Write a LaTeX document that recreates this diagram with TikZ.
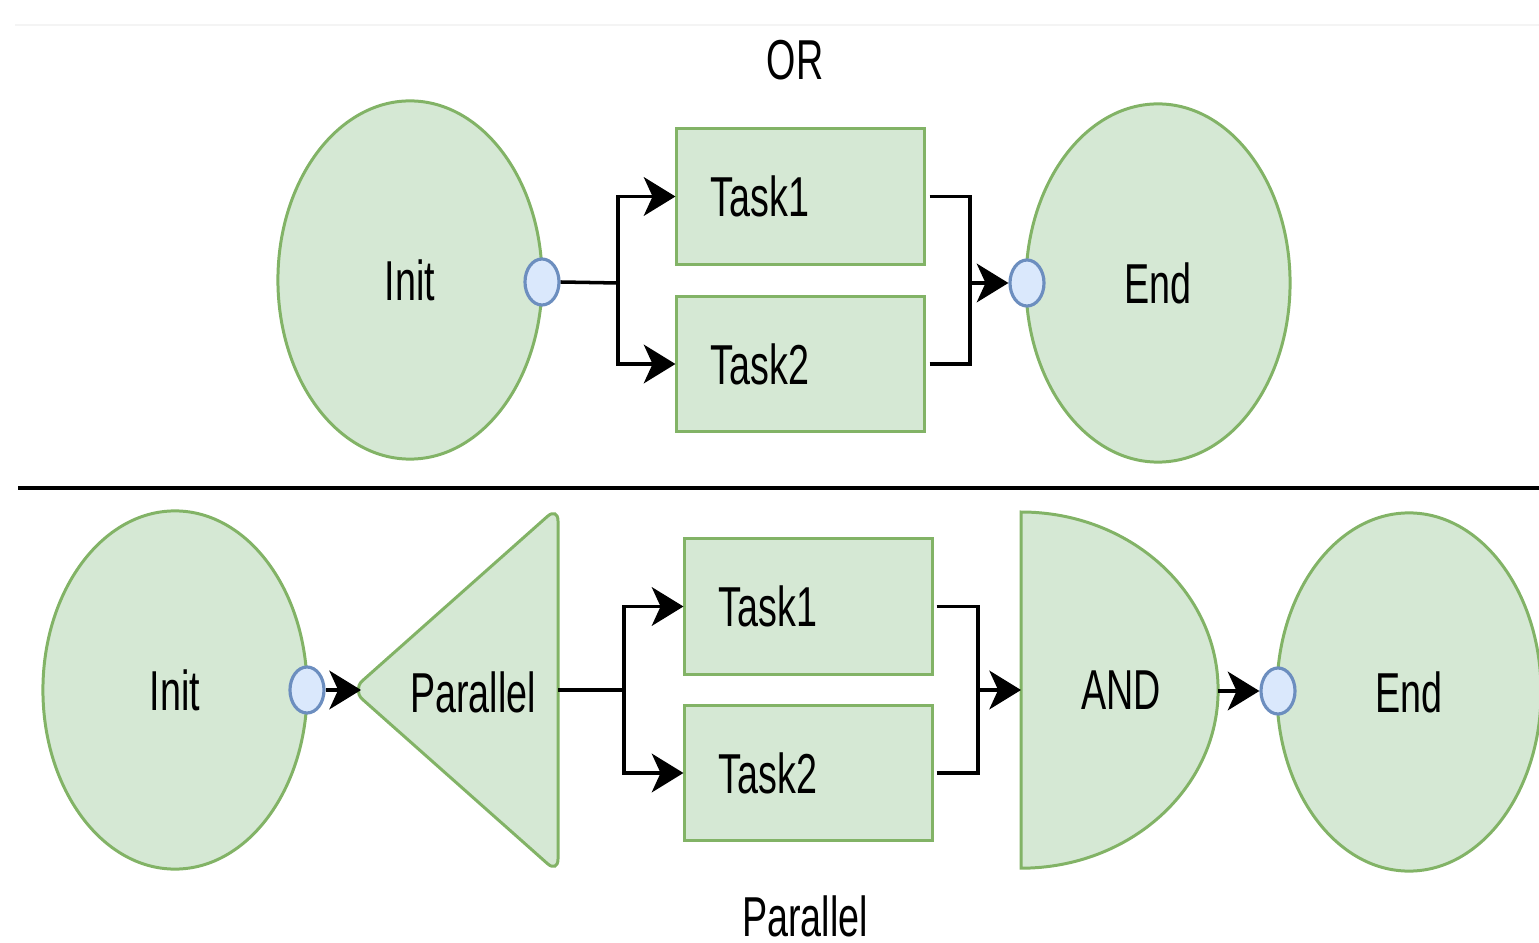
\documentclass[tikz,border=0pt]{standalone}
\usepackage{fontspec}
\setmainfont{Liberation Sans}[FakeStretch=0.67]
\usetikzlibrary{shapes.geometric,arrows.meta}
\definecolor{gfill}{HTML}{D5E8D4}
\definecolor{gline}{HTML}{82B366}
\definecolor{bfill}{HTML}{DAE8FC}
\definecolor{bline}{HTML}{6C8EBF}
\definecolor{faint}{HTML}{F4F4F4}
\begin{document}
\begin{tikzpicture}[x=0.01cm,y=-0.01cm,
  txt/.style={font=\fontsize{16}{19}\selectfont, inner sep=0},
  greenshape/.style={draw=gline, fill=gfill, line width=0.85pt},
  ell/.style={ellipse, greenshape, minimum width=2.64cm, minimum height=3.58cm, inner sep=0, txt},
  port/.style={ellipse, draw=bline, fill=bfill, line width=0.9pt, minimum width=0.34cm, minimum height=0.46cm, inner sep=0},
  task/.style={rectangle, greenshape, minimum width=2.47cm, minimum height=1.35cm, inner ysep=0, inner xsep=0.34cm, text width=1.79cm, align=left, txt},
  conn/.style={line width=1pt, black},
  arr/.style={conn, -{Stealth[length=9pt,width=11pt,inset=2.5pt]}}
]
\useasboundingbox (0,0) rectangle (1539,943);
% faint top rule
\coordinate (fl) at (15,25);
\coordinate (fr) at (1539,25);
\draw[faint, line width=0.6pt] (fl) -- (fr);

% ===== Top: OR =====
\node[txt] (orlbl) at (795,60) {OR};
\node[ell] (init1) at (410,280) {Init};
\node[ell] (end1) at (1158,283) {End};
\node[task] (t1) at (800.5,196.5) {Task1};
\node[task] (t2) at (800.5,364) {Task2};
\node[port] (p1) at (542,282) {};
\node[port] (p2) at (1027,283) {};
\coordinate (j1) at (618,283);
\coordinate (j2) at (970,283);
\draw[conn] (p1.east) -- (j1);
\draw[arr] (j1) |- (t1.west);
\draw[arr] (j1) |- (t2.west);
\draw[conn] ([xshift=0.04cm]t1.east) -| (j2);
\draw[conn] ([xshift=0.04cm]t2.east) -| (j2);
\draw[arr] (j2) -- (p2.west);

% separator
\coordinate (sepl) at (18,488);
\coordinate (sepr) at (1539,488);
\draw[line width=1.1pt] (sepl) -- (sepr);

% ===== Bottom: Parallel =====
\node[ell] (init2) at (175,690) {Init};
\node[ell] (end2) at (1409,692) {End};
\node[port] (p3) at (307,690) {};
\node[port] (p4) at (1278,691) {};
% parallel triangle
\draw[greenshape, rounded corners=1.4mm] (558,507) -- (352,690) -- (558,873) -- cycle;
\node[txt] (par) at (473,692) {Parallel};
\coordinate (partip) at (361,690);
\coordinate (parr) at (558,690);
% tasks
\node[task] (t3) at (808.5,606.5) {Task1};
\node[task] (t4) at (808.5,773) {Task2};
% AND shape
\draw[greenshape] (1021,512) arc[start angle=90, end angle=-90, x radius=1.97cm, y radius=1.78cm] -- cycle;
\node[txt] (andn) at (1121,690) {AND};
\coordinate (andl) at (1021,690);
\coordinate (andr) at (1218,691);
\coordinate (j3) at (624,690);
\coordinate (j4) at (978,690);
\draw[arr] (p3.east) -- (partip);
\draw[conn] (parr) -- (j3);
\draw[arr] (j3) |- (t3.west);
\draw[arr] (j3) |- (t4.west);
\draw[conn] ([xshift=0.03cm]t3.east) -| (j4);
\draw[conn] ([xshift=0.03cm]t4.east) -| (j4);
\draw[arr] (j4) -- (andl);
\draw[arr] (andr) -- (p4.west);
\node[txt] (parlbl) at (805,916) {Parallel};
\end{tikzpicture}
\end{document}
